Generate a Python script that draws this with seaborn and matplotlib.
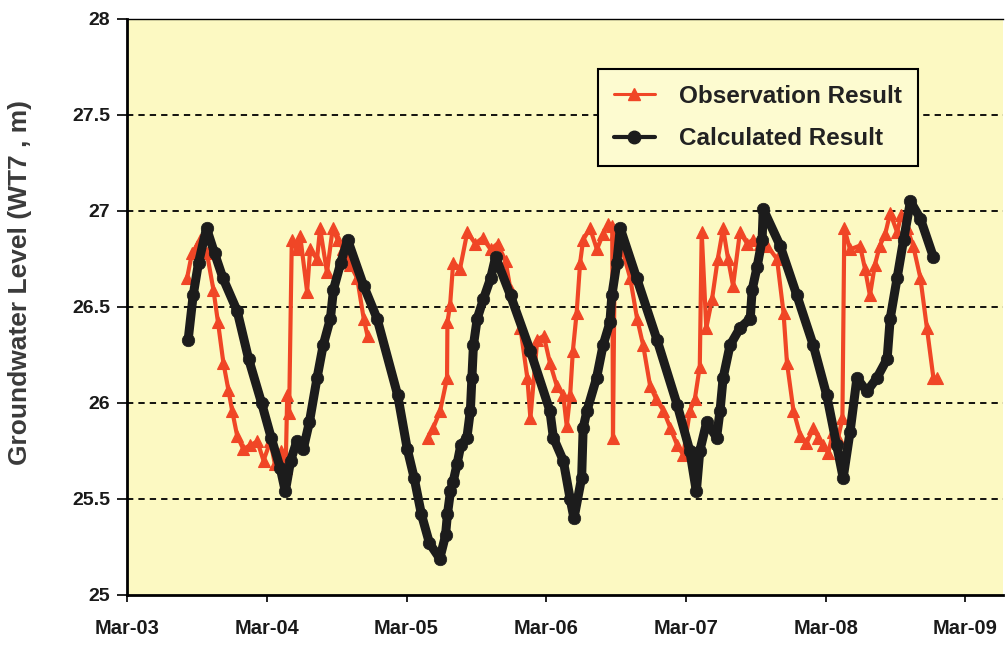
import matplotlib
matplotlib.use("Agg")
import matplotlib.pyplot as plt
import matplotlib.dates as mdates
from matplotlib.lines import Line2D
import pandas as pd
import seaborn as sns

# ---------------- data ----------------
calc_dates = [
    "2003-08-08", "2003-08-21", "2003-09-04", "2003-09-25", "2003-10-16", "2003-11-07",
    "2003-12-14", "2004-01-13", "2004-02-16", "2004-03-12", "2004-04-05", "2004-04-18",
    "2004-05-02", "2004-05-18", "2004-06-04", "2004-06-20", "2004-07-10", "2004-07-26",
    "2004-08-14", "2004-08-22", "2004-09-10", "2004-09-28", "2004-11-09", "2004-12-14",
    "2005-02-06", "2005-03-03", "2005-03-21", "2005-04-09", "2005-04-30", "2005-05-27",
    "2005-06-11", "2005-06-16", "2005-06-24", "2005-07-01", "2005-07-11", "2005-07-21",
    "2005-08-06", "2005-08-15", "2005-08-19", "2005-08-23", "2005-09-02", "2005-09-18",
    "2005-10-07", "2005-10-20", "2005-11-28", "2006-01-19", "2006-03-11", "2006-03-20",
    "2006-04-15", "2006-05-03", "2006-05-13", "2006-06-02", "2006-06-06", "2006-06-16",
    "2006-07-11", "2006-07-28", "2006-08-15", "2006-08-20", "2006-09-02", "2006-09-11",
    "2006-10-24", "2006-12-16", "2007-02-07", "2007-03-12", "2007-03-29", "2007-04-07",
    "2007-04-25", "2007-05-21", "2007-05-30", "2007-06-07", "2007-06-25", "2007-07-21",
    "2007-08-17", "2007-08-22", "2007-09-04", "2007-09-17", "2007-09-20", "2007-11-03",
    "2007-12-17", "2008-01-29", "2008-03-04", "2008-03-30", "2008-04-16", "2008-05-04",
    "2008-05-22", "2008-06-17", "2008-07-13", "2008-08-09", "2008-08-17", "2008-09-04",
    "2008-09-21", "2008-10-09", "2008-11-04", "2008-12-08",
]
calc_level = [
    26.33, 26.56, 26.73, 26.91, 26.78, 26.65,
    26.48, 26.23, 26.00, 25.82, 25.66, 25.54,
    25.70, 25.80, 25.76, 25.90, 26.13, 26.30,
    26.44, 26.59, 26.73, 26.85, 26.61, 26.44,
    26.04, 25.76, 25.61, 25.42, 25.27, 25.19,
    25.31, 25.42, 25.54, 25.59, 25.68, 25.78,
    25.82, 25.96, 26.13, 26.30, 26.44, 26.54,
    26.65, 26.76, 26.56, 26.27, 25.96, 25.82,
    25.70, 25.50, 25.40, 25.61, 25.87, 25.96,
    26.13, 26.30, 26.42, 26.56, 26.73, 26.91,
    26.65, 26.33, 25.99, 25.75, 25.54, 25.75,
    25.90, 25.82, 25.96, 26.13, 26.30, 26.39,
    26.44, 26.59, 26.71, 26.85, 27.01, 26.82,
    26.56, 26.30, 26.04, 25.78, 25.61, 25.85,
    26.13, 26.06, 26.13, 26.23, 26.44, 26.65,
    26.85, 27.05, 26.96, 26.76,
]

obs1_dates = [
    "2003-08-05", "2003-08-18", "2003-08-31", "2003-09-09", "2003-09-26", "2003-10-13",
    "2003-10-25", "2003-11-08", "2003-11-21", "2003-12-01", "2003-12-14", "2003-12-30",
    "2004-01-17", "2004-02-05", "2004-02-21", "2004-03-10", "2004-03-22", "2004-04-08",
    "2004-04-19", "2004-04-23", "2004-04-28", "2004-05-05", "2004-05-18", "2004-05-27",
    "2004-06-14", "2004-06-22", "2004-07-10", "2004-07-18", "2004-08-05", "2004-08-20",
    "2004-09-02", "2004-09-17", "2004-10-05", "2004-10-23", "2004-11-09", "2004-11-19",
]
obs1_level = [
    26.65, 26.78, 26.82, 26.85, 26.78, 26.59,
    26.42, 26.21, 26.07, 25.96, 25.83, 25.76,
    25.78, 25.80, 25.70, 25.80, 25.68, 25.75,
    25.66, 26.04, 25.95, 26.85, 26.80, 26.87,
    26.58, 26.80, 26.75, 26.91, 26.68, 26.91,
    26.85, 26.80, 26.72, 26.65, 26.44, 26.35,
]

obs2_dates = [
    "2005-04-27", "2005-05-10", "2005-05-28", "2005-06-15", "2005-06-16", "2005-06-23",
    "2005-07-01", "2005-07-19", "2005-08-07", "2005-08-28", "2005-09-16", "2005-10-07",
    "2005-10-25", "2005-11-15", "2005-11-28", "2005-12-24", "2006-01-11", "2006-01-19",
    "2006-02-06", "2006-02-23", "2006-03-11", "2006-03-29", "2006-04-15", "2006-04-24",
    "2006-05-03", "2006-05-10", "2006-05-20", "2006-05-29", "2006-06-06", "2006-06-24",
    "2006-07-12", "2006-07-28", "2006-08-10", "2006-08-21", "2006-08-23", "2006-08-28",
    "2006-09-16", "2006-10-07", "2006-10-25", "2006-11-10", "2006-11-28", "2006-12-14",
    "2007-01-02", "2007-01-20", "2007-02-07", "2007-02-23", "2007-03-12", "2007-03-25",
    "2007-04-07", "2007-04-12", "2007-04-24", "2007-05-09", "2007-05-24", "2007-06-07",
    "2007-06-20", "2007-07-03", "2007-07-21", "2007-08-09", "2007-08-24", "2007-09-12",
    "2007-09-30", "2007-10-26", "2007-11-12", "2007-11-21", "2007-12-08", "2007-12-26",
    "2008-01-11", "2008-01-29", "2008-02-11", "2008-02-24", "2008-03-08", "2008-03-21",
    "2008-04-03", "2008-04-14", "2008-04-19", "2008-05-04", "2008-05-30", "2008-06-12",
    "2008-06-25", "2008-07-08", "2008-07-21", "2008-08-04", "2008-08-17", "2008-09-04",
    "2008-09-15", "2008-09-30", "2008-10-16", "2008-11-04", "2008-11-21", "2008-12-08",
    "2008-12-17",
]
obs2_level = [
    25.82, 25.87, 25.96, 26.13, 26.42, 26.51,
    26.73, 26.70, 26.89, 26.83, 26.86, 26.80,
    26.83, 26.74, 26.59, 26.39, 26.13, 25.92,
    26.33, 26.35, 26.21, 26.09, 26.04, 25.88,
    26.04, 26.27, 26.47, 26.73, 26.85, 26.91,
    26.80, 26.88, 26.93, 26.92, 25.82, 26.88,
    26.80, 26.65, 26.44, 26.30, 26.09, 26.02,
    25.96, 25.87, 25.78, 25.73, 25.96, 26.02,
    26.19, 26.89, 26.39, 26.54, 26.75, 26.91,
    26.75, 26.61, 26.89, 26.83, 26.85, 26.83,
    26.82, 26.75, 26.47, 26.21, 25.96, 25.83,
    25.79, 25.87, 25.82, 25.78, 25.74, 25.85,
    25.82, 25.92, 26.91, 26.80, 26.82, 26.70,
    26.56, 26.72, 26.82, 26.88, 26.99, 26.89,
    26.98, 26.91, 26.82, 26.65, 26.39, 26.13,
    26.13,
]

y_ticks = [25, 25.5, 26, 26.5, 27, 27.5, 28]
y_tick_labels = ["25", "25.5", "26", "26.5", "27", "27.5", "28"]
x_ticks = ["2003-03-01", "2004-03-01", "2005-03-01", "2006-03-01",
           "2007-03-01", "2008-03-01", "2009-03-01"]
series_names = ["Observation Result", "Calculated Result"]
y_label = "Groundwater Level (WT7 , m)"

# ---------------- build tables ----------------
calc_df = pd.DataFrame({"date": pd.to_datetime(calc_dates), "level": calc_level})
obs_df = pd.concat([
    pd.DataFrame({"date": pd.to_datetime(obs1_dates), "level": obs1_level, "seg": 1}),
    pd.DataFrame({"date": pd.to_datetime(obs2_dates), "level": obs2_level, "seg": 2}),
], ignore_index=True)

# ---------------- style ----------------
sns.set_style("white")
plt.rcParams["font.family"] = ["Liberation Sans", "DejaVu Sans"]
plt.rcParams["font.weight"] = "bold"

RED = "#F04626"
BLACK = "#1C1C1C"
FACE = "#FCF9C2"

fig = plt.figure(figsize=(10.05, 6.46), dpi=100)
ax = fig.add_axes([127 / 1005, 51 / 646, 876 / 1005, 576 / 646])
ax.set_facecolor(FACE)

# observation (two measured segments with a gap in between)
sns.lineplot(data=obs_df, x="date", y="level", units="seg", estimator=None,
             sort=False, color=RED, lw=3.0, marker="^", markersize=8,
             markeredgecolor=RED, markeredgewidth=0.8, ax=ax, legend=False,
             zorder=3)
# calculated
sns.lineplot(data=calc_df, x="date", y="level", estimator=None, sort=False,
             color=BLACK, lw=6.5, marker="o", markersize=9,
             markeredgecolor=BLACK, markeredgewidth=0.5, ax=ax, legend=False,
             zorder=4)

# axes limits / ticks
ax.set_ylim(25, 28)
ax.set_xlim(pd.Timestamp("2003-03-01"), pd.Timestamp("2009-06-08"))
ax.set_yticks(y_ticks)
ax.set_yticklabels(y_tick_labels)
ax.set_xticks(pd.to_datetime(x_ticks))
ax.xaxis.set_major_formatter(mdates.DateFormatter("%b-%y"))
ax.tick_params(axis="y", which="major", direction="out", length=7, width=1.3,
               colors="#111111", labelsize=14, pad=5)
ax.tick_params(axis="x", which="major", direction="out", length=5, width=1.3,
               colors="#111111", labelsize=14.5, pad=12)
ax.tick_params(left=True, bottom=True)
for lab in ax.get_xticklabels() + ax.get_yticklabels():
    lab.set_fontweight("bold")
    lab.set_color("#1a1a1a")

# grid
for yv in y_ticks[1:-1]:
    ax.axhline(yv, color="black", lw=1.3, linestyle=(0, (3.5, 2.8)), zorder=1)

# spines
for side in ["left", "bottom"]:
    ax.spines[side].set_color("black")
    ax.spines[side].set_linewidth(2.0)
ax.spines["top"].set_color("black")
ax.spines["top"].set_linewidth(1.0)
ax.spines["right"].set_visible(False)

ax.set_xlabel("")
ax.set_ylabel(y_label, fontsize=19, fontweight="bold", color="#3a3a3a")
ax.yaxis.set_label_coords(-0.108, 0.543)

# legend
handles = [
    Line2D([0], [0], color=RED, lw=2.2, marker="^", markersize=9,
           markeredgecolor=RED),
    Line2D([0], [0], color=BLACK, lw=3, marker="o", markersize=9,
           markeredgecolor=BLACK),
]
leg = ax.legend(handles, series_names, loc="upper left",
                bbox_to_anchor=(0.5377, 0.9135), borderaxespad=0,
                frameon=True, fancybox=False, framealpha=1,
                prop={"family": "Liberation Sans", "weight": "bold", "size": 17.5},
                handlelength=1.7, handletextpad=1.0, labelspacing=0.8,
                borderpad=0.65)
leg.get_frame().set_edgecolor("black")
leg.get_frame().set_linewidth(1.5)
leg.get_frame().set_facecolor("#FDFBD0")
for t in leg.get_texts():
    t.set_color("#222222")

fig.savefig("out.png", dpi=100, facecolor="white")
